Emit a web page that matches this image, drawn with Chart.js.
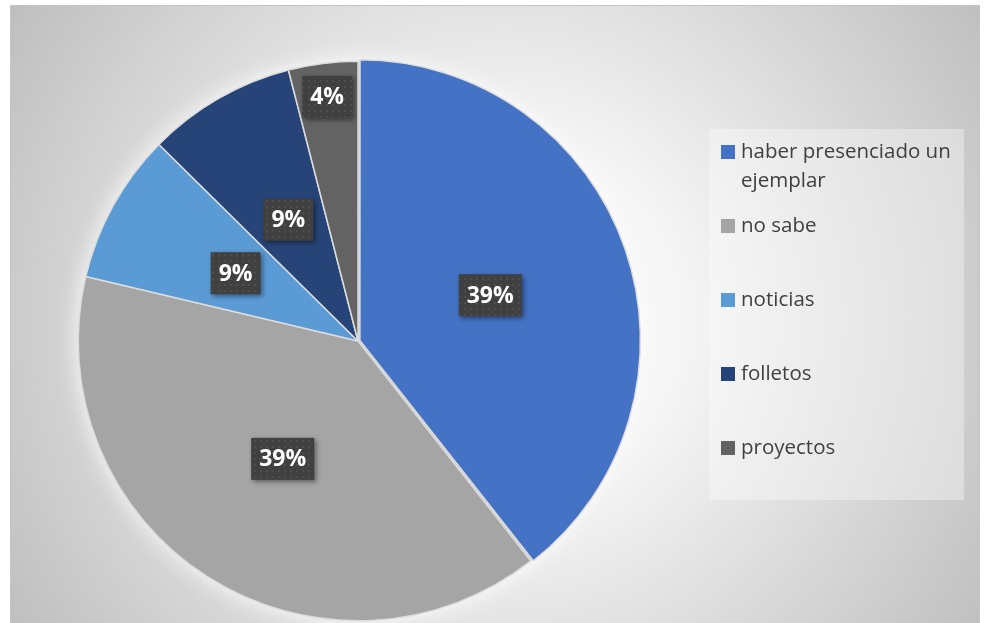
<!DOCTYPE html>
<html>
<head>
<meta charset="utf-8">
<script src="https://cdn.jsdelivr.net/npm/chart.js@4.4.1/dist/chart.umd.min.js"></script>
<style>
  html, body { margin: 0; padding: 0; background: #fff; overflow: hidden; }
  #wrap { width: 986px; height: 650px; position: relative; }
</style>
</head>
<body>
<div id="wrap"><canvas id="pie"></canvas></div>
<script>
// --- Data ---
const categories = ['haber presenciado un ejemplar', 'no sabe', 'noticias', 'folletos', 'proyectos'];
const shares = [39.4, 39.3, 8.7, 8.6, 4.0];
const sliceColors = ['#4472c4', '#a5a5a5', '#5b9bd5', '#264478', '#636363'];

// --- Helpers ---
function dotPattern(ctx) {
    let c = document.createElement('canvas');
    c.width = 6; c.height = 6;
    let p = c.getContext('2d');
    p.fillStyle = '#404040';
    p.fillRect(0, 0, 6, 6);
    p.fillStyle = '#4d4d4d';
    p.fillRect(2, 2, 2, 2);
    return ctx.createPattern(c, 'repeat');
}

// frame + radial background, and a soft glow behind the pie
const backdrop = {
    id: 'backdrop',
    beforeDraw(chart) {
        let ctx = chart.ctx;
        ctx.save();
        ctx.fillStyle = '#fff';
        ctx.fillRect(0, 0, chart.width, chart.height);
        let g = ctx.createRadialGradient(500, 320, 0, 500, 320, 590);
        g.addColorStop(0, '#ffffff');
        g.addColorStop(0.3, '#f6f6f6');
        g.addColorStop(1, '#bdbdbd');
        ctx.fillStyle = g;
        ctx.fillRect(10, 5, 970, 640);
        ctx.strokeStyle = '#c4c4c4';
        ctx.lineWidth = 1;
        ctx.strokeRect(10.5, 5.5, 969, 640);
        ctx.restore();
    },
    beforeDatasetsDraw(chart) {
        let arc = chart.getDatasetMeta(0).data[0];
        if (!arc) return;
        let ctx = chart.ctx;
        ctx.save();
        ctx.shadowColor = 'rgba(255,255,255,0.95)';
        ctx.shadowBlur = 22;
        ctx.fillStyle = '#cdcdcd';
        ctx.beginPath();
        ctx.arc(arc.x, arc.y, arc.outerRadius, 0, Math.PI * 2);
        ctx.fill();
        ctx.restore();
    }
};

// percentage labels in dark boxes
const pctLabels = {
    id: 'pctLabels',
    afterDatasetsDraw(chart) {
        let ctx = chart.ctx;
        let meta = chart.getDatasetMeta(0);
        let total = shares.reduce((a, b) => a + b, 0);
        let pat = dotPattern(ctx);
        ctx.save();
        ctx.font = 'bold 23px "Open Sans"';
        ctx.textAlign = 'center';
        ctx.textBaseline = 'middle';
        meta.data.forEach((arc, i) => {
            let span = arc.endAngle - arc.startAngle;
            let mid = (arc.startAngle + arc.endAngle) / 2;
            let f = span < 0.35 ? 0.88 : 0.5;
            let x = arc.x + Math.cos(mid) * arc.outerRadius * f;
            let y = arc.y + Math.sin(mid) * arc.outerRadius * f;
            let txt = Math.round(shares[i] / total * 100) + '%';
            let w = ctx.measureText(txt).width + 16;
            let h = 42;
            ctx.save();
            ctx.shadowColor = 'rgba(0,0,0,0.45)';
            ctx.shadowBlur = 5;
            ctx.shadowOffsetX = 2;
            ctx.shadowOffsetY = 2;
            ctx.fillStyle = pat;
            ctx.fillRect(x - w / 2, y - h / 2, w, h);
            ctx.restore();
            ctx.fillStyle = '#ffffff';
            ctx.fillText(txt, x, y + 1);
        });
        ctx.restore();
    }
};

// legend panel on the right
const sideLegend = {
    id: 'sideLegend',
    afterDraw(chart) {
        let ctx = chart.ctx;
        ctx.save();
        ctx.fillStyle = 'rgba(255,255,255,0.35)';
        ctx.fillRect(709, 129, 255, 371);
        ctx.font = '20.5px "Open Sans"';
        ctx.textBaseline = 'middle';
        ctx.textAlign = 'left';
        categories.forEach((name, i) => {
            let y = 152 + 74 * i;
            ctx.fillStyle = sliceColors[i];
            ctx.fillRect(721, y - 7, 14, 14);
            // wrap words into lines
            let words = name.split(' ');
            let lines = [];
            let cur = '';
            words.forEach(wd => {
                let t = cur ? cur + ' ' + wd : wd;
                if (ctx.measureText(t).width > 218 && cur) { lines.push(cur); cur = wd; }
                else cur = t;
            });
            lines.push(cur);
            ctx.fillStyle = '#404040';
            lines.forEach((ln, k) => ctx.fillText(ln, 741, y + k * 29));
        });
        ctx.restore();
    }
};

new Chart(document.getElementById('pie'), {
    type: 'pie',
    data: {
        labels: categories,
        datasets: [{
            data: shares,
            backgroundColor: sliceColors,
            borderColor: '#dcdcdc',
            borderWidth: 1.5,
            offset: [8, 0, 0, 0, 0]
        }]
    },
    options: {
        responsive: true,
        maintainAspectRatio: false,
        animation: false,
        layout: {padding: {left: 73.5, right: 343.5, top: 56.5, bottom: 24.5}},
        plugins: {legend: {display: false}, tooltip: {enabled: false}}
    },
    plugins: [backdrop, pctLabels, sideLegend]
});
</script>
</body>
</html>
